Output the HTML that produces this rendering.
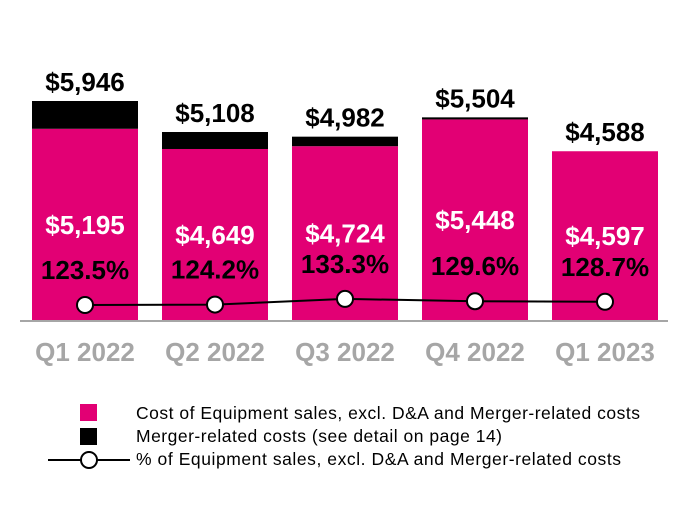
<!DOCTYPE html>
<html><head><meta charset="utf-8"><style>
body{margin:0;background:#fff;font-family:"Liberation Sans",Arial,sans-serif}
svg text{font-family:"Liberation Sans",Arial,sans-serif}
</style></head><body>
<svg width="690" height="500" xmlns="http://www.w3.org/2000/svg">
<g id="bars"></g>
<line x1="20" y1="321" x2="668" y2="321" stroke="#a6a6a6" stroke-width="2"/>
<g id="line"></g>
<g id="labels"></g>
<g>
<rect x="80" y="404" width="17" height="17" fill="#e20074"/>
<text x="136" y="419" font-size="17.5" textLength="504">Cost of Equipment sales, excl. D&amp;A and Merger-related costs</text>
<rect x="80" y="428" width="17" height="17" fill="#000"/>
<text x="136" y="442" font-size="17.5" textLength="366">Merger-related costs (see detail on page 14)</text>
<line x1="48" y1="460" x2="130" y2="460" stroke="#000" stroke-width="2"/>
<circle cx="89" cy="460" r="8" fill="#fff" stroke="#000" stroke-width="2"/>
<text x="136" y="465" font-size="17.5" textLength="485">% of Equipment sales, excl. D&amp;A and Merger-related costs</text>
</g>
</svg>
<script>
const categories=["Q1 2022","Q2 2022","Q3 2022","Q4 2022","Q1 2023"];
const totals=[5946,5108,4982,5504,4588];
const costs=[5195,4649,4724,5448,4597];
const percents=[123.5,124.2,133.3,129.6,128.7];
const NS="http://www.w3.org/2000/svg";
const baseY=321, scale=220/5946;
const xCenter=i=>85+i*130, barW=106;
const yVal=v=>baseY-v*scale;
const yPct=p=>305-(p-123.5)*0.62;
function mk(tag,attrs,parent,txt){const e=document.createElementNS(NS,tag);for(const k in attrs)e.setAttribute(k,attrs[k]);if(txt!==undefined)e.textContent=txt;parent.appendChild(e);return e;}
const bars=document.getElementById('bars'),line=document.getElementById('line'),labels=document.getElementById('labels');
const fmt=v=>"$"+v.toLocaleString('en-US');
categories.forEach((c,i)=>{
  const x=xCenter(i)-barW/2;
  const pinkH=Math.min(costs[i],totals[i]);
  const p=mk('rect',{x:x,y:yVal(pinkH),width:barW,height:pinkH*scale,fill:'#e20074'},bars);
  
  
  if(totals[i]>costs[i]){
    const b=mk('rect',{x:x,y:yVal(totals[i]),width:barW,height:(totals[i]-costs[i])*scale,fill:'#000'},bars);
    
    
  }
  const t=mk('text',{x:xCenter(i),y:yVal(Math.max(totals[i],costs[i]))-10,'text-anchor':'middle','font-size':26,'font-weight':'bold'},labels,fmt(totals[i]));
  
  
  const cl=mk('text',{x:xCenter(i),y:(yVal(pinkH)+baseY)/2+9,'text-anchor':'middle','font-size':26,'font-weight':'bold',fill:'#fff'},labels,fmt(costs[i]));
  
  
  const pl=mk('text',{x:xCenter(i),y:yPct(percents[i])-26,'text-anchor':'middle','font-size':26,'font-weight':'bold'},labels,percents[i].toFixed(1)+"%");
  
  
  const xl=mk('text',{x:xCenter(i),y:361,'text-anchor':'middle','font-size':26,'font-weight':'bold',fill:'#a6a6a6'},labels,c);
  
  
});
const pl=mk('polyline',{points:percents.map((p,i)=>xCenter(i)+","+yPct(p)).join(" "),fill:'none',stroke:'#000','stroke-width':2},line);


percents.forEach((p,i)=>{
  const c=mk('circle',{cx:xCenter(i),cy:yPct(p),r:8,fill:'#fff',stroke:'#000','stroke-width':2},line);
  
  
});
</script>
</body></html>
